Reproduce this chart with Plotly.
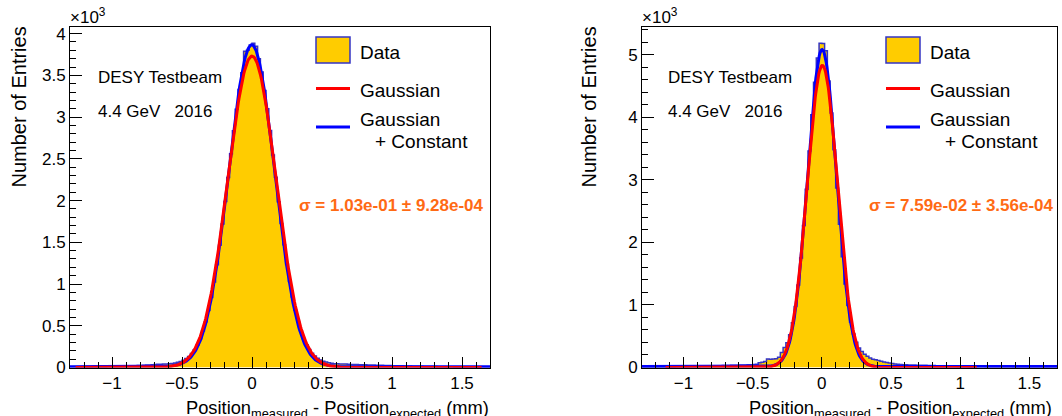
import numpy as np
import plotly.graph_objects as go

# ---------------- data ----------------
BIN_LOW = -1.3
BIN_WIDTH = 0.02

left_counts = [
    5, 7, 6, 8, 9, 8, 10, 9, 11, 12, 11, 13, 12, 14, 15, 14, 16, 17, 18, 17,
    19, 21, 20, 22, 24, 25, 27, 29, 31, 34,
    36, 38, 40, 41, 43, 45, 48, 54, 62, 73,
    88, 108, 133, 168, 212, 268, 343, 436, 548, 682,
    840, 1025, 1230, 1465, 1720, 1990, 2275, 2560, 2835, 3095,
    3330, 3530, 3790, 3800, 3865,
    3885, 3850, 3700, 3540, 3320, 3100, 2840, 2545, 2280, 1985,
    1725, 1470, 1235, 1030, 845, 685, 550, 440, 345, 272,
    216, 171, 137, 111, 91, 76, 65, 57, 51, 46,
    44, 43, 42, 41, 39,
    37, 36, 35, 34, 33, 32, 31, 30, 29, 28, 27, 26, 25, 24, 23, 22, 21, 20, 20, 19,
    18, 17, 16, 16, 15, 14, 13, 13, 12, 12, 11, 10, 10, 9, 9, 8, 8, 7, 7, 7,
    6, 6, 5, 5, 5, 4, 4, 4, 3, 3,
]

right_counts = [
    4, 4, 5, 5, 5, 6, 6, 7, 7, 8, 8, 9, 10, 10, 11, 12, 13, 14, 15, 16,
    17, 18, 20, 21, 22, 24, 25, 27, 28, 30,
    32, 33, 35, 36, 37, 38, 40, 41, 43, 45,
    47, 52, 76, 82, 95, 134, 133, 136, 140, 165,
    240, 320, 395, 525, 715, 975, 1320, 1750, 2270, 2850,
    3460, 4040, 4560, 4950, 5185,
    5180, 5065, 4580, 4070, 3480, 2870, 2290, 1770, 1335, 990,
    728, 537, 403, 312, 255, 210, 178, 152, 132, 125,
    110, 100, 88, 78, 70, 62, 56, 52, 48, 45,
    43, 41, 39, 38, 37,
    36, 35, 34, 33, 32, 31, 29, 28, 26, 25, 23, 22, 20, 19, 17, 16, 15, 14, 13, 12,
    12, 11, 10, 10, 9, 9, 8, 8, 7, 7, 7, 6, 6, 6, 5, 5, 5, 5, 4, 4,
    4, 4, 3, 3, 3, 3, 3, 2, 2, 2,
]

# fit function parameters (amplitude, mean, sigma, constant, drawn range)
left_gauss = dict(amp=3730, mean=0.0, sigma=0.172, const=0, lo=-1.26, hi=1.64)
left_gauss_const = dict(amp=3855, mean=-0.002, sigma=0.164, const=10, lo=-1.3, hi=1.7)
right_gauss = dict(amp=4830, mean=0.004, sigma=0.109, const=0, lo=-1.13, hi=1.12)
right_gauss_const = dict(amp=5070, mean=0.002, sigma=0.104, const=14, lo=-1.3, hi=1.7)

left_y_tickvals = [0, 500, 1000, 1500, 2000, 2500, 3000, 3500, 4000]
left_y_ticktext = ["0", "0.5", "1", "1.5", "2", "2.5", "3", "3.5", "4"]
right_y_tickvals = [0, 1000, 2000, 3000, 4000, 5000]
right_y_ticktext = ["0", "1", "2", "3", "4", "5"]

left_sigma_text = "σ = 1.03e-01 ± 9.28e-04"
right_sigma_text = "σ = 7.59e-02 ± 3.56e-04"

# ---------------- style ----------------
W, H = 1062, 416
FONT = "Liberation Sans, Arial, Helvetica, sans-serif"
GOLD = "#ffcc00"
HISTLINE = "#3434c4"
RED = "#ff0000"
BLUE = "#0000ff"
ORANGE = "#ff6a14"

X_RANGE = [-1.3, 1.7]
PANELS = [
    dict(x0=70, x1=490, xa="x", ya="y", counts=left_counts, g=left_gauss, gc=left_gauss_const,
         tv=left_y_tickvals, tt=left_y_ticktext, minor=100, ytitle_x=18, sigma=left_sigma_text,
         sigma_x=486, text_x=96, leg_x=316, xtitle_end=491),
    dict(x0=642, x1=1057, xa="x2", ya="y2", counts=right_counts, g=right_gauss, gc=right_gauss_const,
         tv=right_y_tickvals, tt=right_y_ticktext, minor=200, ytitle_x=588, sigma=right_sigma_text,
         sigma_x=1056, text_x=666, leg_x=886, xtitle_end=1054),
]
TOP_PX, BOT_PX = 27, 367.5


def px(x):
    return x / W


def py(y):
    return 1 - y / H


def fit_curve(p):
    xs = np.linspace(p["lo"], p["hi"], 600)
    ys = p["amp"] * np.exp(-0.5 * ((xs - p["mean"]) / p["sigma"]) ** 2) + p["const"]
    return xs, ys


fig = go.Figure()
annotations = []
shapes = []

for i, P in enumerate(PANELS):
    counts = P["counts"]
    n = len(counts)
    edges = BIN_LOW + BIN_WIDTH * np.arange(n + 1)
    hx = list(edges)
    hy = list(counts) + [counts[-1]]
    fig.add_trace(go.Scatter(x=hx, y=hy, mode="lines", line=dict(shape="hv", color=HISTLINE, width=1.5),
                             fill="tozeroy", fillcolor=GOLD, xaxis=P["xa"], yaxis=P["ya"],
                             hoverinfo="skip"))
    bx, by = fit_curve(P["gc"])
    fig.add_trace(go.Scatter(x=bx, y=by, mode="lines", line=dict(color=BLUE, width=3),
                             xaxis=P["xa"], yaxis=P["ya"], hoverinfo="skip"))
    rx, ry = fit_curve(P["g"])
    fig.add_trace(go.Scatter(x=rx, y=ry, mode="lines", line=dict(color=RED, width=3),
                             xaxis=P["xa"], yaxis=P["ya"], hoverinfo="skip"))

    suffix = "" if i == 0 else "2"
    ymax = max(counts) * 1.05
    fig.update_layout(**{
        "xaxis" + suffix: dict(
            domain=[px(P["x0"]), px(P["x1"])], anchor=P["ya"], range=X_RANGE,
            tick0=0, dtick=0.5, ticks="inside", ticklen=11, tickwidth=1, tickcolor="black",
            minor=dict(dtick=0.1, tick0=0, ticks="inside", ticklen=6, tickcolor="black", showgrid=False),
            showline=True, linecolor="black", linewidth=1, mirror=True,
            showgrid=False, zeroline=False, automargin=False,
            tickfont=dict(family=FONT, size=17, color="black"),
        ),
        "yaxis" + suffix: dict(
            domain=[py(BOT_PX), py(TOP_PX)], anchor=P["xa"], range=[0, ymax],
            tickmode="array", tickvals=P["tv"], ticktext=P["tt"],
            ticks="inside", ticklen=12, tickwidth=1, tickcolor="black",
            minor=dict(dtick=P["minor"], tick0=0, ticks="inside", ticklen=6, tickcolor="black", showgrid=False),
            showline=True, linecolor="black", linewidth=1, mirror=True,
            showgrid=False, zeroline=False, automargin=False,
            tickfont=dict(family=FONT, size=17, color="black"),
        ),
    })

    # y axis title
    annotations.append(dict(text="Number of Entries", textangle=-90, xref="paper", yref="paper",
                            x=px(P["ytitle_x"]), y=py(TOP_PX - 2), xanchor="center", yanchor="top",
                            showarrow=False, font=dict(family=FONT, size=20, color="black")))
    # x10^3
    annotations.append(dict(text="×10<sup>3</sup>", xref="paper", yref="paper",
                            x=px(P["x0"] - 2), y=py(16), xanchor="left", yanchor="middle",
                            showarrow=False, font=dict(family=FONT, size=17, color="black")))
    # x axis title
    annotations.append(dict(text="Position<sub>measured</sub> - Position<sub>expected</sub> (mm)",
                            xref="paper", yref="paper", x=px(P["xtitle_end"]), y=py(395),
                            xanchor="right", yanchor="top", showarrow=False,
                            font=dict(family=FONT, size=18.3, color="black")))
    # info texts
    tx = P["text_x"]
    annotations.append(dict(text="DESY Testbeam", xref="paper", yref="paper", x=px(tx), y=py(77),
                            xanchor="left", yanchor="middle", showarrow=False,
                            font=dict(family=FONT, size=17, color="black")))
    annotations.append(dict(text="4.4 GeV   2016", xref="paper", yref="paper", x=px(tx), y=py(112),
                            xanchor="left", yanchor="middle", showarrow=False,
                            font=dict(family=FONT, size=17, color="black")))
    # sigma text
    annotations.append(dict(text="<b>" + P["sigma"] + "</b>", xref="paper", yref="paper",
                            x=px(P["sigma_x"]), y=py(205), xanchor="right", yanchor="middle",
                            showarrow=False, font=dict(family=FONT, size=17, color=ORANGE)))
    # legend
    lx0 = P["leg_x"]
    lx1 = lx0 + 34
    shapes.append(dict(type="rect", xref="paper", yref="paper", x0=px(lx0), x1=px(lx1),
                       y0=py(63), y1=py(37), fillcolor=GOLD, line=dict(color=HISTLINE, width=1.5)))
    shapes.append(dict(type="line", xref="paper", yref="paper", x0=px(lx0), x1=px(lx1),
                       y0=py(88.5), y1=py(88.5), line=dict(color=RED, width=3)))
    shapes.append(dict(type="line", xref="paper", yref="paper", x0=px(lx0), x1=px(lx1),
                       y0=py(127), y1=py(127), line=dict(color=BLUE, width=3)))
    ltx = lx1 + 8
    for txt, yy, xx in [("Data", 52, ltx), ("Gaussian", 90, ltx), ("Gaussian", 120, ltx),
                        ("+ Constant", 141, ltx + 15)]:
        annotations.append(dict(text=txt, xref="paper", yref="paper", x=px(xx), y=py(yy),
                                xanchor="left", yanchor="middle", showarrow=False,
                                font=dict(family=FONT, size=19, color="black")))

fig.update_layout(width=W, height=H, autosize=False, margin=dict(l=0, r=0, t=0, b=0, pad=0),
                  plot_bgcolor="white", paper_bgcolor="white", showlegend=False,
                  annotations=annotations, shapes=shapes)

POST = (
    "document.body.style.margin='0';"
    "document.body.style.padding='0';"
    "document.documentElement.style.overflow='hidden';"
    "var gd=document.getElementById('{plot_id}');"
    "Plotly.relayout(gd,{width:%d,height:%d});" % (W, H)
)

fig.write_html("out.html", config={"displayModeBar": False, "responsive": False},
               post_script=POST)
